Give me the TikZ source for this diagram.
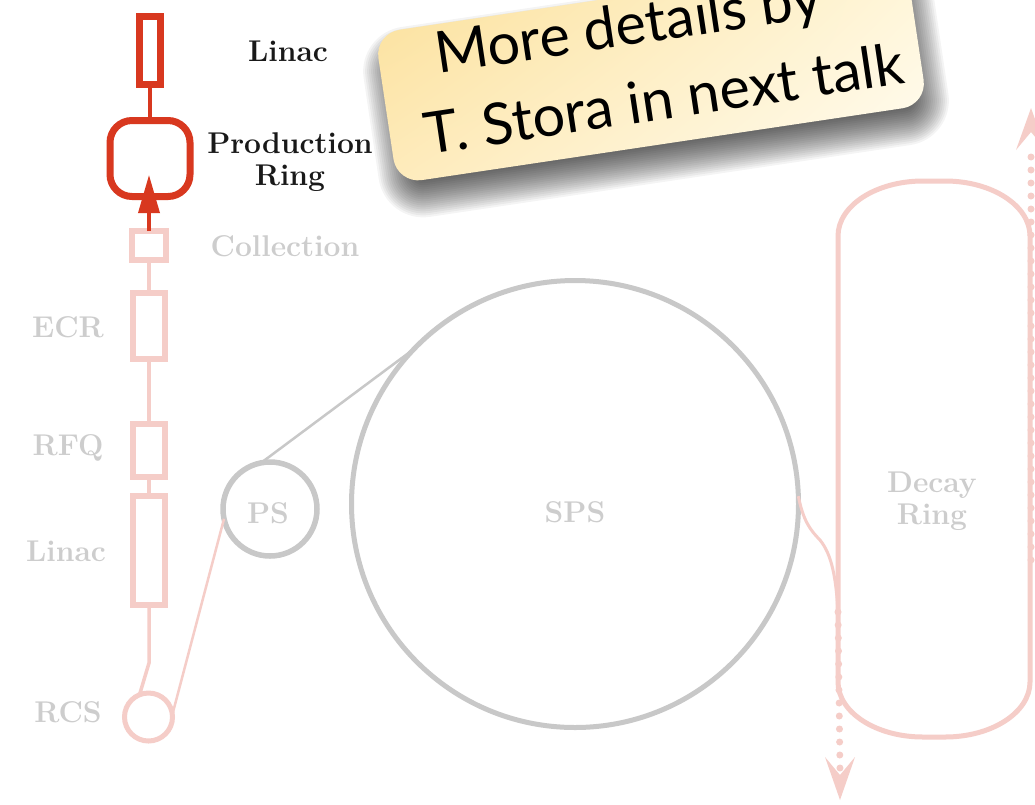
\documentclass[tikz,border=0pt]{standalone}
\usepackage{fontspec}
\newfontfamily\callfont{Lato}
\usetikzlibrary{arrows.meta,shadings}
\definecolor{cred}{HTML}{D8381F}
\definecolor{cpale}{HTML}{F5CDC8}
\definecolor{cgray}{HTML}{C8C8C8}
\definecolor{ctext}{HTML}{CDCDCD}
\definecolor{cyA}{HTML}{FBDF96}
\definecolor{cyB}{HTML}{FFF5D6}
\definecolor{cyC}{HTML}{FEEBBB}
\definecolor{cyD}{HTML}{FFFDF4}
\tikzset{
  redbox/.style={rectangle, draw=cred, line width=7pt, inner sep=0pt, outer sep=0pt},
  palebox/.style={rectangle, draw=cpale, line width=6pt, inner sep=0pt, outer sep=0pt},
  redline/.style={draw=cred, line width=3.5pt},
  paleline/.style={draw=cpale, line width=3.5pt},
  ringcircle/.style={circle, draw=cgray, line width=5.5pt, inner sep=0pt, outer sep=0pt},
  lbl/.style={font=\fontsize{30}{32}\selectfont\bfseries, text=ctext, inner sep=0pt, align=center},
  lbldark/.style={lbl, text=black!90},
  dotline/.style={draw=cpale, line width=7pt, line cap=round, dash pattern=on 0pt off 13pt},
  calltext/.style={font=\callfont\fontsize{57.5}{64}\selectfont, rotate=8.5, anchor=base, inner sep=0pt}
}
\begin{document}
\begin{tikzpicture}[x=1pt,y=1pt]
\useasboundingbox (0,0) rectangle (1035,-804);
\clip (0,0) rectangle (1035,-804);
\fill[white] (0,0) rectangle (1035,-804);

% ---- left column ----
\node[redbox, minimum width=21pt, minimum height=68pt] (linacA) at (150,-50.5) {};
\node[redbox, rounded corners=22pt, minimum width=80pt, minimum height=76pt] (prod) at (150,-158.5) {};
\node[palebox, minimum width=34pt, minimum height=29pt] (coll) at (149,-245.5) {};
\node[palebox, minimum width=32pt, minimum height=66pt] (ecr) at (149,-326) {};
\node[palebox, minimum width=32pt, minimum height=53pt] (rfq) at (149,-450.5) {};
\node[palebox, minimum width=32pt, minimum height=109pt] (linacB) at (149,-550.5) {};
\node[circle, draw=cpale, line width=5pt, inner sep=0pt, outer sep=0pt, minimum size=48pt] (rcs) at (148.5,-717) {};

\coordinate (ptip) at (149,-175);
\coordinate (bend) at (149,-663);

\draw[redline] (linacA.south) -- (prod.north);
\draw[paleline] (coll.south) -- (ecr.north);
\draw[paleline] (ecr.south) -- (rfq.north);
\draw[paleline] (rfq.south) -- (linacB.north);
\draw[paleline] (linacB.south) -- (bend) -- (rcs.112);
\draw[redline, -{Triangle[length=38pt,width=21pt]}] (coll.north) -- (ptip);

% labels
\node[lbldark] (lLinacA) at (288,-51) {Linac};
\node[lbldark] (lProd) at (290,-162) {Production\\Ring};
\node[lbl] (lColl) at (285,-246) {Collection};
\node[lbl] (lEcr) at (68,-327) {ECR};
\node[lbl] (lRfq) at (68,-448) {RFQ};
\node[lbl] (lLinacB) at (66,-551) {Linac};
\node[lbl] (lRcs) at (68,-712) {RCS};

% ---- rings ----
\node[ringcircle, minimum size=94pt] (ps) at (270,-509) {};
\node[ringcircle, line width=5pt, minimum size=447pt] (sps) at (575,-504) {};
\node[lbl] (lPs) at (268,-513) {PS};
\node[lbl] (lSps) at (575,-512) {SPS};

\draw[paleline, line width=2.5pt] (rcs.6) -- (ps.192);
\draw[draw=cgray, line width=2.5pt] (ps.101) -- (sps.136);

% ---- decay ring ----
\draw[draw=cpale, line width=5pt]
  (838,-236) -- (838,-682)
  arc[start angle=180, end angle=270, x radius=85, y radius=55] -- (945,-737)
  arc[start angle=270, end angle=360, x radius=85, y radius=55] -- (1030,-236)
  arc[start angle=0, end angle=90, x radius=85, y radius=55] -- (923,-181)
  arc[start angle=90, end angle=180, x radius=85, y radius=55] -- cycle;
\node[lbl] (lDecay) at (932,-501) {Decay\\Ring};

\coordinate (dj) at (838,-612);
\coordinate (dend) at (840,-772);
\coordinate (rstart) at (1031,-560);
\coordinate (rend) at (1031,-150);
\draw[paleline, line width=3pt] (sps.2) .. controls (803,-520) and (810,-530) .. (820,-540)
  .. controls (832,-555) and (836,-578) .. (dj);
\draw[dotline] (dj) -- (dend);
\fill[cpale] (825,-757) -- (840,-800) -- (855,-757) -- (840,-775) -- cycle;
\draw[dotline] (rstart) -- (rend);
\fill[cpale] (1016,-150) -- (1031,-108) -- (1046,-150) -- (1031,-132) -- cycle;

% ---- callout ----
\begin{scope}[shift={(656,-86)}, rotate=8.5]
  \foreach \i in {0,...,19} {
    \pgfmathsetmacro\dd{20-2*\i}
    \pgfmathsetmacro\xa{-268-\dd}
    \pgfmathsetmacro\xb{268+\dd}
    \pgfmathsetmacro\ya{-76-\dd}
    \pgfmathsetmacro\yb{76+\dd}
    \pgfmathsetmacro\rr{max(25+\dd,4)}
    \fill[black, opacity=0.042, rounded corners=\rr pt] (\xa,\ya) rectangle (\xb,\yb);
  }
\end{scope}
\node[rectangle, rotate=8.5, rounded corners=25pt, minimum width=536pt, minimum height=152pt,
  inner sep=0pt, upper left=cyA, upper right=cyB, lower left=cyC, lower right=cyD] (callout) at (651,-69) {};
\node[calltext] (ct1) at (631,-45) {More details by};
\node[calltext] (ct2) at (667,-119) {T. Stora in next talk};
\end{tikzpicture}
\end{document}
